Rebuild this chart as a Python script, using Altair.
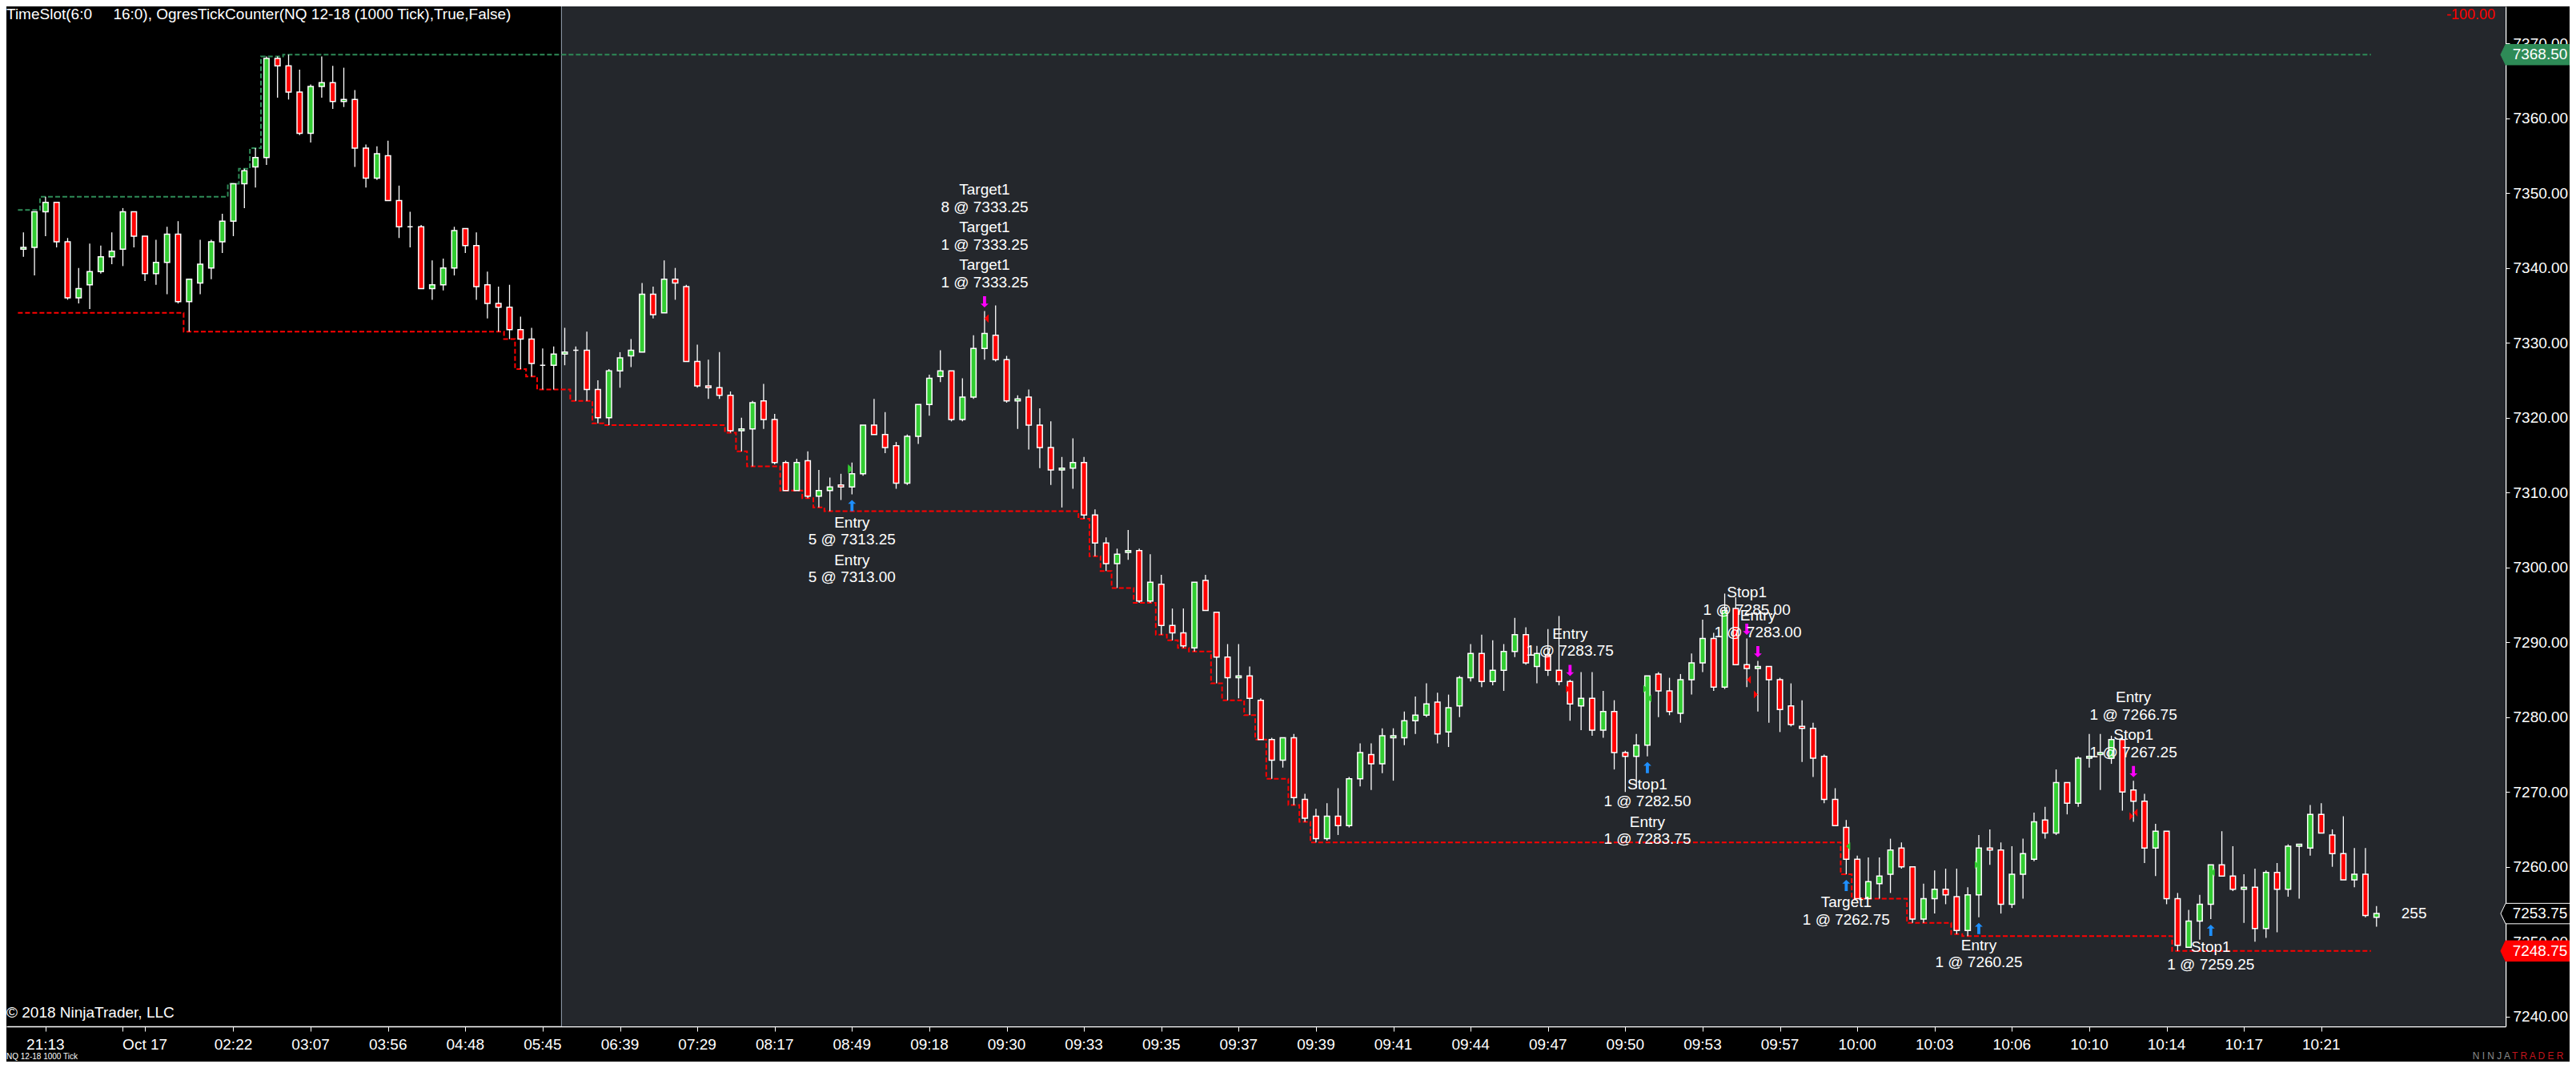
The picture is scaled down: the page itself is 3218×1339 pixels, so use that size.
import altair as alt
import pandas as pd
import numpy as np

# ---------------- data ----------------
opens = [
    7342.5, 7342.75, 7347.5, 7348.75, 7343.5, 7336.0, 7337.75, 7339.5, 7341.5, 7342.5,
    7347.5, 7344.25, 7339.25, 7340.75, 7344.5, 7335.5, 7338.0, 7340.0, 7343.5, 7346.25,
    7351.25, 7353.5, 7354.75, 7368.0, 7367.0, 7363.5, 7358.0, 7364.25, 7364.75, 7362.25,
    7362.5, 7356.0, 7352.0, 7355.0, 7349.0, 7345.5, 7345.5, 7337.25, 7337.75, 7340.0,
    7345.25, 7343.0, 7337.75, 7335.25, 7334.75, 7331.75, 7330.5, 7327.0, 7327.0, 7328.5,
    7329.0, 7329.0, 7323.75, 7320.0, 7326.25, 7328.25, 7328.75, 7336.5, 7334.0, 7338.5,
    7337.5, 7327.5, 7324.25, 7324.0, 7323.0, 7318.25, 7318.5, 7322.25, 7319.75, 7314.0,
    7310.25, 7314.25, 7309.5, 7310.25, 7311.0, 7310.75, 7312.5, 7319.0, 7317.75, 7316.25,
    7311.25, 7317.5, 7321.75, 7325.5, 7326.25, 7319.75, 7322.75, 7329.25, 7331.0, 7327.75,
    7322.25, 7322.75, 7319.0, 7316.0, 7313.0, 7313.25, 7314.0, 7307.0, 7303.25, 7300.5,
    7302.0, 7302.25, 7295.5, 7297.75, 7292.25, 7291.25, 7289.25, 7298.25, 7294.0, 7288.0,
    7285.25, 7285.5, 7282.25, 7277.0, 7274.25, 7277.25, 7269.0, 7266.75, 7263.75, 7266.75,
    7265.5, 7271.75, 7275.0, 7273.75, 7277.25, 7277.25, 7279.5, 7280.25, 7282.0, 7278.0,
    7281.5, 7285.25, 7288.5, 7284.75, 7286.25, 7288.75, 7291.0, 7286.75, 7288.25, 7286.25,
    7284.75, 7281.5, 7282.5, 7278.25, 7280.75, 7275.25, 7274.75, 7276.25, 7285.75, 7283.5,
    7280.5, 7285.0, 7287.25, 7290.5, 7284.0, 7294.5, 7287.0, 7286.5, 7286.75, 7285.0,
    7281.5, 7278.75, 7278.5, 7274.75, 7269.0, 7265.25, 7261.0, 7255.75, 7257.75, 7259.0,
    7262.5, 7260.0, 7253.0, 7255.75, 7257.0, 7256.0, 7251.5, 7256.25, 7262.5, 7262.25,
    7255.0, 7259.0, 7261.0, 7266.25, 7264.5, 7271.25, 7268.5, 7274.5, 7275.0, 7274.5,
    7277.0, 7270.25, 7268.75, 7262.5, 7264.75, 7255.75, 7249.25, 7252.75, 7255.0, 7260.25,
    7258.75, 7257.0, 7257.25, 7251.75, 7259.25, 7257.0, 7262.75, 7262.5, 7267.0, 7264.25,
    7261.75, 7258.25, 7259.0, 7253.25,
]
highs = [
    7344.75, 7347.5, 7349.5, 7348.75, 7344.0, 7340.0, 7343.25, 7343.0, 7344.75, 7348.0,
    7347.5, 7344.25, 7343.75, 7345.5, 7346.25, 7338.5, 7343.75, 7343.75, 7347.25, 7351.25,
    7353.25, 7356.0, 7368.25, 7368.25, 7368.5, 7366.5, 7364.5, 7368.25, 7367.0, 7366.75,
    7363.75, 7356.5, 7356.25, 7357.0, 7351.0, 7347.5, 7345.75, 7341.0, 7341.25, 7345.5,
    7345.25, 7344.75, 7339.5, 7337.5, 7337.75, 7333.5, 7332.0, 7329.25, 7329.5, 7332.0,
    7329.5, 7331.5, 7325.0, 7326.5, 7328.75, 7330.5, 7338.0, 7337.5, 7341.0, 7340.0,
    7337.75, 7329.75, 7327.75, 7328.75, 7323.5, 7320.0, 7322.25, 7324.5, 7320.5, 7314.25,
    7314.5, 7315.5, 7313.0, 7312.0, 7312.5, 7314.0, 7319.0, 7322.5, 7320.75, 7316.75,
    7317.75, 7321.75, 7325.75, 7329.0, 7326.25, 7325.25, 7331.0, 7334.25, 7335.0, 7328.25,
    7323.0, 7323.75, 7321.25, 7319.5, 7314.75, 7317.25, 7314.75, 7307.75, 7304.0, 7302.5,
    7305.0, 7302.5, 7301.75, 7299.0, 7294.5, 7294.5, 7298.0, 7299.0, 7294.0, 7289.75,
    7289.75, 7286.75, 7282.5, 7277.25, 7277.25, 7277.75, 7269.75, 7267.75, 7268.5, 7270.5,
    7272.0, 7276.5, 7276.5, 7278.5, 7278.5, 7280.75, 7282.75, 7284.5, 7283.25, 7283.0,
    7285.5, 7289.75, 7291.0, 7290.25, 7289.75, 7293.25, 7292.0, 7289.5, 7291.75, 7293.5,
    7285.0, 7286.0, 7286.0, 7283.5, 7282.25, 7275.5, 7277.75, 7285.5, 7286.0, 7285.25,
    7285.75, 7288.5, 7293.0, 7291.25, 7296.5, 7296.0, 7290.5, 7287.5, 7286.75, 7285.25,
    7284.5, 7282.25, 7279.25, 7275.0, 7270.5, 7266.25, 7261.5, 7261.25, 7261.25, 7263.75,
    7263.25, 7260.0, 7257.75, 7259.5, 7259.75, 7259.75, 7257.25, 7264.25, 7265.0, 7263.25,
    7262.75, 7263.75, 7267.25, 7268.0, 7273.0, 7271.25, 7274.75, 7277.75, 7277.75, 7277.5,
    7277.25, 7271.5, 7269.75, 7265.75, 7264.75, 7256.5, 7254.25, 7256.25, 7260.25, 7264.75,
    7262.75, 7259.0, 7259.75, 7259.5, 7260.5, 7263.0, 7263.0, 7268.25, 7268.5, 7265.0,
    7266.75, 7262.5, 7262.5, 7254.75,
]
lows = [
    7341.5, 7339.0, 7344.25, 7342.75, 7335.75, 7335.25, 7334.5, 7339.25, 7340.5, 7340.25,
    7342.75, 7338.25, 7337.75, 7336.5, 7335.25, 7331.5, 7336.5, 7338.5, 7342.0, 7344.25,
    7348.0, 7350.75, 7353.75, 7362.75, 7362.5, 7357.75, 7356.75, 7362.75, 7361.25, 7361.5,
    7353.5, 7350.75, 7351.75, 7349.0, 7344.0, 7342.75, 7337.25, 7335.75, 7337.0, 7339.0,
    7342.0, 7335.75, 7333.25, 7331.5, 7330.5, 7326.5, 7325.5, 7323.75, 7323.75, 7327.0,
    7322.25, 7322.25, 7319.25, 7319.0, 7324.0, 7326.75, 7328.75, 7333.25, 7334.0, 7335.75,
    7327.5, 7324.0, 7322.5, 7322.5, 7318.0, 7315.5, 7313.5, 7318.5, 7313.75, 7310.25,
    7310.25, 7309.25, 7308.0, 7307.5, 7309.0, 7309.75, 7312.25, 7317.75, 7315.25, 7310.5,
    7311.0, 7316.5, 7320.25, 7324.75, 7319.5, 7319.5, 7322.5, 7327.75, 7327.5, 7322.0,
    7318.5, 7315.75, 7313.25, 7311.0, 7308.0, 7310.5, 7306.5, 7301.5, 7299.5, 7297.25,
    7301.0, 7295.25, 7295.25, 7291.0, 7290.25, 7289.25, 7288.75, 7294.25, 7284.5, 7282.25,
    7282.5, 7280.25, 7277.0, 7271.75, 7273.25, 7268.25, 7266.0, 7263.25, 7263.5, 7264.25,
    7265.25, 7270.75, 7270.25, 7272.5, 7271.5, 7276.25, 7277.75, 7280.0, 7276.5, 7276.0,
    7280.0, 7284.75, 7284.0, 7284.25, 7283.5, 7288.0, 7287.0, 7284.5, 7285.5, 7284.25,
    7279.5, 7278.25, 7277.5, 7277.25, 7273.0, 7270.0, 7270.5, 7274.75, 7280.0, 7280.25,
    7279.25, 7283.0, 7286.0, 7283.5, 7283.75, 7287.0, 7284.0, 7280.75, 7279.25, 7278.0,
    7278.75, 7274.0, 7272.0, 7268.5, 7265.5, 7259.0, 7255.75, 7255.75, 7255.75, 7256.5,
    7259.75, 7252.5, 7252.5, 7253.75, 7255.0, 7251.0, 7250.75, 7253.25, 7260.25, 7253.75,
    7254.5, 7255.75, 7260.75, 7263.75, 7264.25, 7267.0, 7268.0, 7273.25, 7270.25, 7273.75,
    7267.5, 7266.0, 7260.5, 7258.75, 7255.0, 7248.75, 7249.25, 7250.25, 7253.0, 7258.75,
    7256.75, 7252.5, 7250.0, 7250.5, 7251.25, 7256.0, 7255.75, 7261.5, 7264.5, 7260.0,
    7258.25, 7257.25, 7253.25, 7252.0,
]
closes = [
    7342.75, 7347.5, 7348.75, 7343.5, 7336.0, 7337.25, 7339.5, 7341.5, 7342.25, 7347.5,
    7344.25, 7339.25, 7340.75, 7344.5, 7335.5, 7338.5, 7340.5, 7343.5, 7346.25, 7351.25,
    7353.0, 7354.75, 7368.0, 7367.0, 7363.5, 7358.0, 7364.25, 7364.75, 7362.25, 7362.5,
    7356.0, 7352.0, 7355.25, 7349.0, 7345.5, 7345.5, 7337.25, 7337.75, 7340.0, 7345.0,
    7343.0, 7337.5, 7335.25, 7334.75, 7331.75, 7330.5, 7327.25, 7327.0, 7328.5, 7328.75,
    7329.0, 7323.75, 7320.0, 7326.25, 7328.0, 7329.0, 7336.5, 7333.75, 7338.5, 7338.0,
    7327.5, 7324.25, 7324.0, 7323.0, 7318.25, 7318.5, 7322.0, 7319.75, 7314.0, 7310.25,
    7314.0, 7309.5, 7310.25, 7310.75, 7310.75, 7312.5, 7319.0, 7317.75, 7316.0, 7311.25,
    7317.5, 7321.75, 7325.25, 7326.25, 7319.75, 7322.75, 7329.25, 7331.25, 7327.75, 7322.25,
    7322.5, 7319.0, 7316.0, 7313.0, 7313.25, 7314.0, 7307.0, 7303.25, 7300.5, 7301.75,
    7302.25, 7295.5, 7298.0, 7292.25, 7291.25, 7289.5, 7298.0, 7294.25, 7288.0, 7285.25,
    7285.5, 7282.5, 7277.0, 7274.25, 7277.25, 7269.25, 7266.5, 7263.75, 7266.75, 7265.5,
    7271.75, 7275.25, 7273.75, 7277.5, 7277.5, 7279.5, 7280.25, 7281.75, 7277.75, 7281.25,
    7285.25, 7288.5, 7284.75, 7286.25, 7288.75, 7291.0, 7287.25, 7288.5, 7286.25, 7284.75,
    7281.75, 7282.5, 7278.25, 7280.75, 7275.25, 7274.75, 7276.25, 7285.5, 7283.5, 7280.75,
    7285.0, 7287.25, 7290.5, 7284.0, 7294.25, 7287.0, 7286.5, 7286.75, 7285.0, 7281.0,
    7279.0, 7278.5, 7274.5, 7269.0, 7265.5, 7261.0, 7255.75, 7258.0, 7258.75, 7262.25,
    7260.0, 7253.0, 7255.75, 7257.0, 7256.25, 7251.5, 7256.25, 7262.5, 7262.25, 7255.0,
    7259.0, 7261.75, 7266.0, 7264.5, 7271.25, 7268.5, 7274.5, 7274.75, 7275.25, 7277.0,
    7270.0, 7268.75, 7262.5, 7264.75, 7255.75, 7249.5, 7252.75, 7255.0, 7260.25, 7258.75,
    7257.0, 7257.25, 7251.75, 7259.25, 7257.0, 7262.75, 7263.0, 7267.0, 7264.5, 7261.75,
    7258.25, 7259.0, 7253.5, 7253.75,
]
assert len(opens) == len(highs) == len(lows) == len(closes) == 214

session_start = 49.7          # bar position where the 6:00 time slot begins
prior_high = 7347.75          # running high carried in from before the first bar
prior_low = 7334.0            # running low carried in from before the first bar
ticks_remaining = 255
pnl_text = "-100.00"

tick_idx = [3, 10, 12] + list(range(20, 210, 7))
time_label_idx = [3, 12] + list(range(20, 210, 7))
time_labels = ["21:13", "Oct 17", "02:22", "03:07", "03:56", "04:48", "05:45", "06:39",
               "07:29", "08:17", "08:49", "09:18", "09:30", "09:33", "09:35", "09:37",
               "09:39", "09:41", "09:44", "09:47", "09:50", "09:53", "09:57", "10:00",
               "10:03", "10:06", "10:10", "10:14", "10:17", "10:21"]

exec_bar = [76, 76, 88, 88, 88, 141, 148, 148, 157, 158, 166, 178, 192, 192, 199]
exec_name = ["Entry", "Entry", "Target1", "Target1", "Target1", "Entry", "Stop1", "Entry",
             "Stop1", "Entry", "Target1", "Entry", "Entry", "Stop1", "Stop1"]
exec_qty = [5, 5, 8, 1, 1, 1, 1, 1, 1, 1, 1, 1, 1, 1, 1]
exec_price = [7313.25, 7313.00, 7333.25, 7333.25, 7333.25, 7283.75, 7282.50, 7283.75,
              7285.00, 7283.00, 7262.75, 7260.25, 7266.75, 7267.25, 7259.25]
exec_action = ["Buy", "Buy", "Sell", "Sell", "Sell", "Sell", "Buy", "Buy",
               "Sell", "Sell", "Buy", "Buy", "Sell", "Sell", "Buy"]

# ---------------- layout / style ----------------
W, H = 3122, 1274
XMIN, XMAX = -0.18, 225.32
YMIN, YMAX = 7238.68, 7374.94
FONT = "Liberation Sans"
FS = 19
GREEN = "#32CD32"
RED = "#FF0000"
BLUE = "#1E90FF"
MAGENTA = "#FF00FF"
PANEL = "#24272C"

xs = alt.Scale(domain=[XMIN, XMAX], nice=False, zero=False)
ys = alt.Scale(domain=[YMIN, YMAX], nice=False, zero=False)
xaxis = alt.Axis(values=tick_idx, labels=False, ticks=True, tickColor="white", tickSize=6,
                 tickWidth=1, domainColor="white", domainWidth=1.5, grid=False, title=None)
yaxis = alt.Axis(orient="right", values=list(range(7240, 7371, 10)), format=".2f",
                 labelColor="white", labelFont=FONT, labelFontSize=FS, tickColor="white",
                 tickSize=5, domainColor="white", domainWidth=1.5, grid=False, title=None,
                 labelPadding=4)


def X(f):
    return alt.X(f, type="quantitative", scale=xs, axis=xaxis)


def Y(f):
    return alt.Y(f, type="quantitative", scale=ys, axis=yaxis)


n = len(opens)
idx = list(range(1, n + 1))
candles = pd.DataFrame({"i": idx, "o": opens, "h": highs, "l": lows, "c": closes})
candles["dir"] = np.where(candles.c > candles.o, "up", np.where(candles.c < candles.o, "down", "flat"))

# running session high / low (step lines)
lv = []
lo, hi = prior_low, prior_high
for k in range(n):
    lo = min(lo, lows[k])
    hi = max(hi, highs[k])
    lv.append({"x": idx[k] - 0.5, "lo": lo, "hi": hi})
levels = pd.DataFrame(lv)

one = pd.DataFrame({"s": [session_start]})
dummy = pd.DataFrame({"a": [0]})

bg = alt.Chart(one).mark_rect(color=PANEL).encode(
    x=X("s"), x2=alt.value(W), y=alt.value(0), y2=alt.value(H))
boundary = alt.Chart(one).mark_rule(color="#9AA6B8", strokeWidth=1).encode(
    x=X("s"), y=alt.value(0), y2=alt.value(H))

low_line = alt.Chart(levels).mark_line(interpolate="step-after", color=RED, strokeWidth=2,
                                       strokeDash=[6, 3]).encode(x=X("x"), y=Y("lo"))
high_line = alt.Chart(levels).mark_line(interpolate="step-after", color="#2E8B57", strokeWidth=2,
                                        strokeDash=[6, 3]).encode(x=X("x"), y=Y("hi"))

wicks = alt.Chart(candles).mark_rule(color="white", strokeWidth=1.3).encode(
    x=X("i"), y=Y("l"), y2="h")
bodies = alt.Chart(candles).mark_bar(size=6.5, stroke="white", strokeWidth=1.5).encode(
    x=X("i"), y=Y("o"), y2="c",
    color=alt.Color("dir:N", scale=alt.Scale(domain=["up", "down", "flat"],
                                             range=[GREEN, RED, "#FFFFFF"]), legend=None))

# executions
ex = pd.DataFrame({"bar": exec_bar, "name": exec_name, "qty": exec_qty,
                   "price": exec_price, "action": exec_action})
ex["entry"] = ex["name"] == "Entry"
side_color = alt.Color("action:N", scale=alt.Scale(domain=["Buy", "Sell"], range=[BLUE, MAGENTA]),
                       legend=None)
TRI_R = "M0,0 L-1,-1 L-1,1 Z"
TRI_L = "M0,0 L1,-1 L1,1 Z"
tri_in = alt.Chart(ex[ex.entry]).mark_point(shape=TRI_R, size=100, filled=True, opacity=1).encode(
    x=X("bar"), y=Y("price"), color=side_color)
tri_out = alt.Chart(ex[~ex.entry]).mark_point(shape=TRI_L, size=100, filled=True, opacity=1).encode(
    x=X("bar"), y=Y("price"), color=side_color)

# arrows: path drawn with its own vertical offset from the bar extreme built in
# (unit = 7 px) up arrow: 7..21 px below the low, down arrow: 4.5..18.5 px above the high
ARROW_UP = "M-0.27,3 L0.27,3 L0.27,1.67 L0.7,1.67 L0,1 L-0.7,1.67 L-0.27,1.67 Z"
ARROW_DN = "M-0.27,-2.64 L0.27,-2.64 L0.27,-1.31 L0.7,-1.31 L0,-0.64 L-0.7,-1.31 L-0.27,-1.31 Z"
bars_sides = ex.drop_duplicates("bar")[["bar", "action"]].copy()
bars_sides["low"] = [lows[b - 1] for b in bars_sides.bar]
bars_sides["high"] = [highs[b - 1] for b in bars_sides.bar]
up_arrows = alt.Chart(bars_sides[bars_sides.action == "Buy"]).mark_point(
    shape=ARROW_UP, size=196, filled=True, opacity=1, color=BLUE).encode(
    x=X("bar"), y=Y("low"))
dn_arrows = alt.Chart(bars_sides[bars_sides.action == "Sell"]).mark_point(
    shape=ARROW_DN, size=196, filled=True, opacity=1, color=MAGENTA).encode(
    x=X("bar"), y=Y("high"))

rows = []
for b in ex.bar.unique():
    sub = ex[ex.bar == b].reset_index(drop=True)
    G = len(sub)
    buy = sub.action[0] == "Buy"
    anchor = lows[b - 1] if buy else highs[b - 1]
    for g in range(G):
        lines = [sub.name[g], f"{sub.qty[g]} @ {sub.price[g]:.2f}"]
        for j, t in enumerate(lines):
            if buy:
                dy = 35 + g * 47 + j * 21.5
            else:
                dy = -35.5 - ((G - 1 - g) * 47 + (1 - j) * 21.5)
            rows.append({"bar": b, "anchor": anchor, "dy": dy, "t": t})
ann = pd.DataFrame(rows)
ann_layers = []
for dyv in sorted(ann.dy.unique()):
    ann_layers.append(
        alt.Chart(ann[ann.dy == dyv]).mark_text(font=FONT, fontSize=FS, color="white",
                                                 align="center", baseline="middle",
                                                 dy=float(dyv)).encode(
            x=X("bar"), y=Y("anchor"), text="t:N"))

# right-side price markers
boxes = pd.DataFrame({
    "p": [max(highs), closes[-1], min(lows)],
    "kind": ["high", "last", "low"],
})
boxes["label"] = boxes.p.map(lambda v: f"{v:.2f}")
BOX = "M-1,0 L-0.87,-0.274 L1,-0.274 L1,0.274 L-0.87,0.274 Z"
box_marks = alt.Chart(boxes).mark_point(shape=BOX, size=8649, filled=True, opacity=1,
                                        strokeWidth=1).encode(
    x=alt.value(3162.5), y=Y("p"),
    fill=alt.Fill("kind:N", scale=alt.Scale(domain=["high", "last", "low"],
                                            range=["#2E8B57", "#000000", RED]), legend=None),
    stroke=alt.Stroke("kind:N", scale=alt.Scale(domain=["high", "last", "low"],
                                                range=["#2E8B57", "#FFFFFF", RED]), legend=None))
box_text = alt.Chart(boxes).mark_text(font=FONT, fontSize=FS, color="white", align="center",
                                      baseline="middle").encode(
    x=alt.value(3165), y=Y("p"), text="label:N")

last = candles.tail(1).copy()
last["cnt"] = str(ticks_remaining)
count_text = alt.Chart(last).mark_text(font=FONT, fontSize=FS, color="white", align="left",
                                       baseline="middle", dx=31).encode(
    x=X("i"), y=Y("c"), text="cnt:N")

tl = pd.DataFrame({"pos": time_label_idx, "label": time_labels})
time_text = alt.Chart(tl).mark_text(font=FONT, fontSize=FS, color="white", align="center",
                                    baseline="middle").encode(
    x=X("pos"), y=alt.value(H + 23), text="label:N")


def static(txt, x, y, **kw):
    return alt.Chart(dummy).mark_text(font=FONT, **kw).encode(
        x=alt.value(x), y=alt.value(y), text=alt.value(txt))


header = static("TimeSlot(6:0\u00a0\u00a0\u00a0\u00a0 16:0), OgresTickCounter(NQ 12-18 (1000 Tick),True,False)",
                0, 16, fontSize=FS, color="white", align="left", baseline="alphabetic")
pnl = static(pnl_text, 3109, 11, fontSize=18, color=RED, align="right", baseline="middle")
copy = static("\u00a9 2018 NinjaTrader, LLC", 0, 1257, fontSize=FS, color="white", align="left",
              baseline="middle")
instr = static("NQ 12-18 1000 Tick", 0, 1312, fontSize=10, color="white", align="left",
               baseline="middle")
logo1 = static("N I N J A", 3128, 1311, fontSize=12, color="#8A8A8A", align="right",
               baseline="middle")
logo2 = static("T R A D E R", 3130, 1311, fontSize=12, color="#C0141C", align="left",
               baseline="middle")

chart = alt.layer(
    bg, boundary, low_line, high_line, wicks, bodies, tri_in, tri_out, up_arrows, dn_arrows,
    *ann_layers, box_marks, box_text, count_text, time_text, header, pnl, copy, instr, logo1, logo2
).properties(
    width=W, height=H,
    padding={"left": 0, "top": 0, "right": 80, "bottom": 44},
    autosize=alt.AutoSizeParams(type="none"),
    background="#000000",
).configure_view(strokeWidth=0)

chart.save("out.html", embed_options={"renderer": "svg", "actions": False})
